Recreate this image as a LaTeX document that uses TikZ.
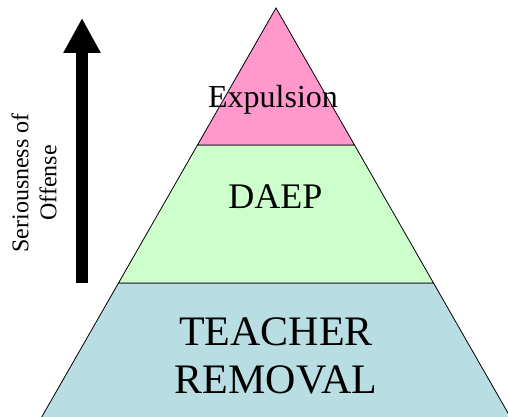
\documentclass[tikz,border=0pt]{standalone}
\usepackage{fontspec}
\setmainfont{Liberation Serif}
\usetikzlibrary{arrows.meta, positioning}

\definecolor{tierpink}{HTML}{FF99CC}
\definecolor{tiergreen}{HTML}{CCFFCC}
\definecolor{tierteal}{HTML}{B8DEE3}

\begin{document}
\begin{tikzpicture}[x=1pt, y=-1pt,
        tier/.style={draw=black, line width=0.8pt, fill=#1},
        tiertext/.style={font=\fontsize{#1}{#1}\selectfont, inner sep=0pt, align=center},
        bigarrow/.style={-{Triangle[length=35pt, width=35pt]}, line width=12pt}
    ]
        \useasboundingbox (0,0) rectangle (508,417);

        % Pyramid tiers
        \fill[tierteal] (118.5,283) -- (433.5,283) -- (512,420) -- (40,420) -- cycle;
        \draw[line width=0.8pt] (40,420) -- (118.5,283) -- (433.5,283) -- (512,420);
        \draw[tier=tiergreen] (197.5,145) -- (354.5,145) -- (433.5,283) -- (118.5,283) -- cycle;
        \draw[tier=tierpink] (276,8) -- (354.5,145) -- (197.5,145) -- cycle;

        % Tier labels
        \node[tiertext=32, anchor=base] (expulsion) at (273,107) {Expulsion};
        \node[tiertext=36, anchor=base] (daep) at (275.5,208) {DAEP};
        \node[tiertext=42, anchor=north] (removal) at (276,317) {TEACHER\\[6pt]REMOVAL};

        % Seriousness arrow
        \coordinate (arrowbot) at (82,283);
        \coordinate (arrowtop) at (82,18);
        \draw[bigarrow] (arrowbot) -- (arrowtop);
        \node[tiertext=24, rotate=90] (seriousness) at (34,183) {Seriousness of\\[4pt]Offense};
    \end{tikzpicture}
\end{document}
